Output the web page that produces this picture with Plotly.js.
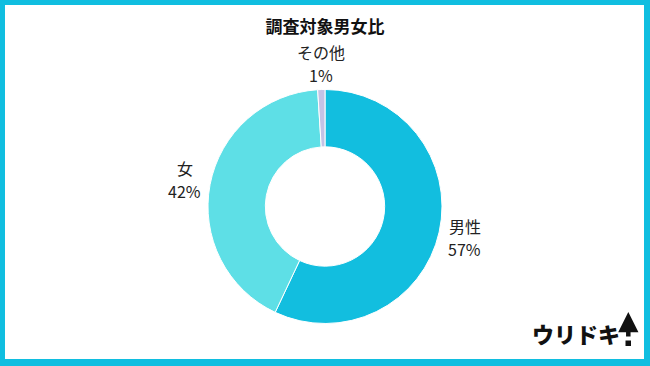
<!DOCTYPE html>
<html>
<head>
<meta charset="utf-8">
<script src="https://cdn.plot.ly/plotly-3.0.1.min.js"></script>
<style>html,body{margin:0;padding:0;background:#fff;}#chart{width:650px;height:366px;}</style>
</head>
<body>
<div id="chart"></div>
<script>
const categories = ['男性', '女', 'その他'];
const values = [57, 42, 1];
const sliceColors = ['#12BEDF', '#5EDFE6', '#C3C3E6'];
const chartTitle = '調査対象男女比';
const logoText = 'ウリドキ';

const W = 650, H = 366;
const px = x => x / W;
const py = y => 1 - y / H;

// pie geometry (pixels)
const CX = 325, CY = 206.5, R = 117, LABEL_R = 143, LINE_GAP = 23.5;

const trace = {
  type: 'pie',
  labels: categories,
  values: values,
  hole: 0.51,
  sort: false,
  direction: 'clockwise',
  rotation: 0,
  marker: {colors: sliceColors, line: {color: '#ffffff', width: 1}},
  textinfo: 'none',
  domain: {x: [px(CX - R), px(CX + R)], y: [py(CY + R), py(CY - R)]},
  showlegend: false,
  hoverinfo: 'none'
};

// outside labels, placed from the data (mid-angle of each slice)
const total = values.reduce((a, b) => a + b, 0);
const labelFont = {size: 16, color: '#222222', family: '"Noto Sans CJK JP", "Noto Sans", sans-serif'};
let cum = 0;
const labelAnns = [];
categories.forEach((c, i) => {
  const mid = (cum + values[i] / 2) / total * 2 * Math.PI;
  cum += values[i];
  const x = CX + LABEL_R * Math.sin(mid);
  const y = CY - LABEL_R * Math.cos(mid);
  const lines = [c, Math.round(values[i] / total * 100) + '%'];
  lines.forEach((t, k) => {
    labelAnns.push({
      text: t, xref: 'paper', yref: 'paper', x: px(x), y: py(y + (k - 0.5) * LINE_GAP),
      xanchor: 'center', yanchor: 'middle', align: 'center', showarrow: false,
      borderpad: 0, font: labelFont
    });
  });
});

const borderColor = '#10BEE0';
const layout = {
  width: W, height: H,
  margin: {l: 0, r: 0, t: 0, b: 0},
  paper_bgcolor: '#ffffff',
  font: {family: '"Noto Sans CJK JP", "Noto Sans", sans-serif', color: '#222222'},
  title: {
    text: '<b>' + chartTitle + '</b>',
    x: 0.5, xanchor: 'center', xref: 'paper',
    y: py(27), yanchor: 'middle', yref: 'paper',
    font: {size: 17, color: '#111111', family: '"Noto Sans CJK JP", sans-serif'}
  },
  shapes: [
    {type: 'rect', xref: 'paper', yref: 'paper', x0: 0, x1: px(5), y0: 0, y1: 1, fillcolor: borderColor, line: {width: 0}},
    {type: 'rect', xref: 'paper', yref: 'paper', x0: px(644), x1: 1, y0: 0, y1: 1, fillcolor: borderColor, line: {width: 0}},
    {type: 'rect', xref: 'paper', yref: 'paper', x0: 0, x1: 1, y0: py(5), y1: 1, fillcolor: borderColor, line: {width: 0}},
    {type: 'rect', xref: 'paper', yref: 'paper', x0: 0, x1: 1, y0: 0, y1: py(359), fillcolor: borderColor, line: {width: 0}},
    // logo arrow dot
    {type: 'rect', xref: 'paper', yref: 'paper', x0: px(625.5), x1: px(631), y0: py(346), y1: py(340.5), fillcolor: '#111111', line: {width: 0}}
  ],
  annotations: labelAnns.concat([
    {
      text: logoText, xref: 'paper', yref: 'paper',
      x: px(622), y: py(333), xanchor: 'right', yanchor: 'middle', showarrow: false,
      font: {size: 22, weight: 900, color: '#111111', family: '"Noto Sans CJK JP", sans-serif'}
    },
    {
      text: '', xref: 'paper', yref: 'paper',
      x: px(628.3), y: py(312), ax: 0, ay: 26, showarrow: true,
      arrowhead: 2, arrowsize: 0.9, arrowwidth: 4.5, arrowcolor: '#111111'
    }
  ])
};

Plotly.newPlot('chart', [trace], layout, {displayModeBar: false, staticPlot: true});
</script>
</body>
</html>
